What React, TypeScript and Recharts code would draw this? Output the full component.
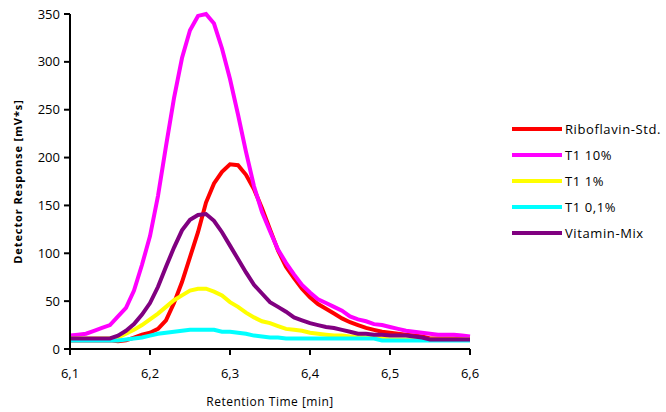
import React from "react";
import { LineChart, Line, XAxis, YAxis, Label } from "recharts";

const retentionTimes = [
  6.1, 6.11, 6.12, 6.13, 6.14, 6.15, 6.16, 6.17, 6.18, 6.19,
  6.2, 6.21, 6.22, 6.23, 6.24, 6.25, 6.26, 6.27, 6.28, 6.29,
  6.3, 6.31, 6.32, 6.33, 6.34, 6.35, 6.36, 6.37, 6.38, 6.39,
  6.4, 6.41, 6.42, 6.43, 6.44, 6.45, 6.46, 6.47, 6.48, 6.49,
  6.5, 6.51, 6.52, 6.53, 6.54, 6.55, 6.56, 6.57, 6.58, 6.59, 6.6,
];

const riboflavinStd = [
  9, 9, 9, 9, 9, 9, 8, 9, 12, 15,
  17, 21, 30, 48, 70, 96, 122, 153, 173, 185,
  193, 192, 182, 167, 147, 125, 103, 86, 74, 63,
  54, 47, 42, 37, 32, 28, 25, 22, 20, 18,
  17, 16, 15, 14, 13, 11, 11, 11, 11, 11, 11,
];

const t1_10 = [
  14, 15, 16, 19, 22, 25, 34, 43, 61, 88,
  118, 160, 212, 262, 304, 333, 348, 350, 340, 314,
  282, 245, 206, 170, 143, 123, 104, 90, 78, 67,
  59, 52, 48, 44, 40, 34, 31, 29, 26, 25,
  23, 21, 19, 18, 17, 16, 15, 15, 15, 14, 13,
];

const t1_1 = [
  11, 11, 11, 11, 11, 11, 12, 16, 20, 25,
  31, 37, 44, 51, 56, 61, 63, 63, 60, 56,
  49, 44, 38, 33, 29, 27, 24, 21, 20, 19,
  17, 16, 15, 14, 14, 13, 13, 12, 12, 11,
  10, 10, 10, 10, 10, 10, 10, 10, 10, 10, 10,
];

const t1_01 = [
  9, 9, 9, 9, 9, 9, 9, 10, 11, 12,
  14, 16, 17, 18, 19, 20, 20, 20, 20, 18,
  18, 17, 16, 14, 13, 12, 12, 11, 11, 11,
  11, 11, 11, 11, 11, 11, 11, 11, 11, 9,
  9, 9, 9, 9, 9, 9, 9, 9, 9, 9, 9,
];

const vitaminMix = [
  11, 11, 11, 11, 11, 11, 14, 19, 26, 36,
  48, 65, 86, 106, 124, 135, 140, 141, 134, 122,
  108, 94, 80, 67, 58, 49, 44, 39, 33, 30,
  27, 25, 23, 22, 20, 18, 16, 16, 15, 15,
  14, 14, 14, 13, 12, 10, 10, 10, 10, 10, 10,
];

const xTicks = [6.1, 6.2, 6.3, 6.4, 6.5, 6.6];
const yTicks = [0, 50, 100, 150, 200, 250, 300, 350];

const series = [
  { key: "ribo", name: "Riboflavin-Std.", color: "#FF0000", values: riboflavinStd },
  { key: "t110", name: "T1 10%", color: "#FF00FF", values: t1_10 },
  { key: "t11", name: "T1 1%", color: "#FFFF00", values: t1_1 },
  { key: "t101", name: "T1 0,1%", color: "#00FFFF", values: t1_01 },
  { key: "vit", name: "Vitamin-Mix", color: "#800080", values: vitaminMix },
];

const data = retentionTimes.map((t, i) => {
  const row: Record<string, number> = { t };
  series.forEach((s) => {
    row[s.key] = s.values[i];
  });
  return row;
});

const FONT = "'Open Sans', 'Liberation Sans', sans-serif";

const YLabel = (props: any) => {
  const vb = props.viewBox || { x: 0, y: 0, width: 0, height: 0 };
  const cx = vb.x + 17;
  const cy = vb.y + vb.height / 2;
  return (
    <text
      x={cx}
      y={cy}
      transform={`rotate(-90, ${cx}, ${cy})`}
      textAnchor="middle"
      dominantBaseline="central"
      fontFamily={FONT}
      fontSize={11}
      fontWeight="bold"
      letterSpacing={0.9}
      fill="#000"
    >
      Detector Response [mV*s]
    </text>
  );
};

export default function App() {
  return (
    <div style={{ position: "absolute", left: 0, top: 0, width: 666, height: 412, background: "#fff" }}>
      <LineChart
        width={666}
        height={412}
        data={data}
        margin={{ top: 14, right: 196, bottom: 0, left: 0 }}
      >
        <XAxis
          dataKey="t"
          type="number"
          domain={[6.1, 6.6]}
          ticks={xTicks}
          tickFormatter={(v: number) => v.toFixed(1).replace(".", ",")}
          height={63}
          tickSize={6}
          tickMargin={14}
          axisLine={{ stroke: "#000", strokeWidth: 2 }}
          tickLine={{ stroke: "#000", strokeWidth: 2 }}
          tick={{ fill: "#000", fontSize: 13, fontFamily: FONT }}
          interval={0}
        >
          <Label
            value="Retention Time [min]"
            position="insideBottom"
            offset={6}
            style={{ fontFamily: FONT, fontSize: 12, fill: "#000", letterSpacing: 0.5 }}
          />
        </XAxis>
        <YAxis
          type="number"
          domain={[0, 350]}
          ticks={yTicks}
          width={70}
          tickSize={6}
          tickMargin={4}
          axisLine={{ stroke: "#000", strokeWidth: 2 }}
          tickLine={{ stroke: "#000", strokeWidth: 2 }}
          tick={{ fill: "#000", fontSize: 13, fontFamily: FONT }}
          interval={0}
        >
          <Label content={YLabel} />
        </YAxis>
        {series.map((s) => (
          <Line
            key={s.key}
            dataKey={s.key}
            name={s.name}
            type="linear"
            stroke={s.color}
            strokeWidth={4}
            dot={false}
            activeDot={false}
            isAnimationActive={false}
          />
        ))}
      </LineChart>
      <div
        style={{
          position: "absolute",
          left: 512,
          top: 116,
          fontFamily: FONT,
          fontSize: 13,
          color: "#000",
        }}
      >
        {series.map((s) => (
          <div key={s.key} style={{ display: "flex", alignItems: "center", height: 26 }}>
            <div style={{ width: 50, height: 4, background: s.color, marginRight: 3 }} />
            <span style={{ letterSpacing: 0.6, whiteSpace: "nowrap" }}>{s.name}</span>
          </div>
        ))}
      </div>
    </div>
  );
}
